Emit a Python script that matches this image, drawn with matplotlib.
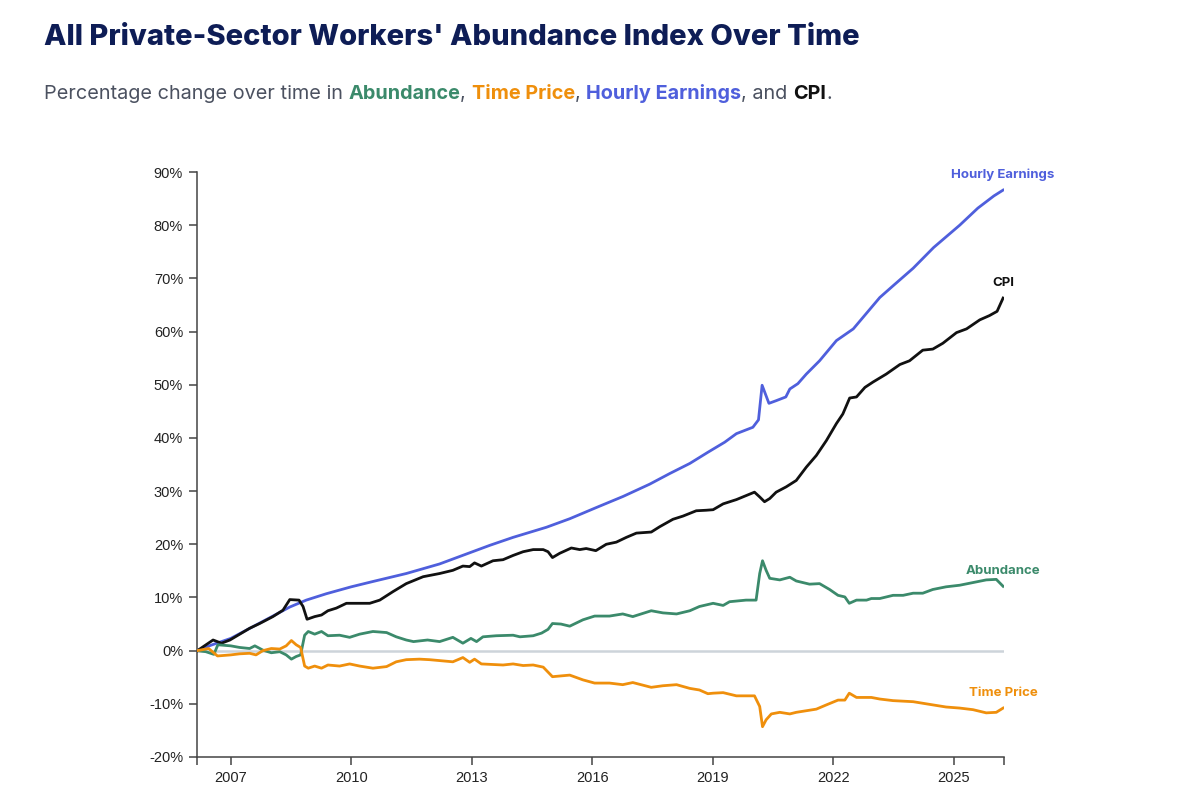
import numpy as np
import matplotlib
matplotlib.use('Agg')
from matplotlib import pyplot as plt
from matplotlib.ticker import FuncFormatter

# values (decimal year, percent change)
earn_t = [2006.17, 2006.50, 2007.00, 2007.50, 2008.05, 2008.47, 2008.88, 2009.38, 2010.00,
          2010.54, 2011.37, 2012.20, 2012.95, 2013.45, 2014.03, 2014.86, 2015.44, 2016.10,
          2016.77, 2017.43, 2017.93, 2018.43, 2018.88, 2019.30, 2019.59, 2020.00, 2020.14,
          2020.23, 2020.40, 2020.58, 2020.82, 2020.92, 2021.12, 2021.33, 2021.66, 2022.08,
          2022.50, 2023.16, 2023.49, 2023.99, 2024.50, 2025.15, 2025.60, 2026.00, 2026.23]
earn_v = [0.0, 1.0, 2.3, 4.3, 6.5, 8.2, 9.5, 10.7, 12.0,
          13.0, 14.5, 16.3, 18.4, 19.8, 21.3, 23.2, 24.8, 26.9,
          29.0, 31.3, 33.3, 35.2, 37.3, 39.2, 40.8, 42.0, 43.4,
          49.9, 46.5, 47.0, 47.7, 49.2, 50.2, 52.0, 54.5, 58.3,
          60.5, 66.4, 68.6, 71.9, 75.8, 80.0, 83.2, 85.5, 86.6]

cpi_t = [2006.17, 2006.56, 2006.77, 2006.98, 2007.47, 2007.72, 2008.05, 2008.30, 2008.47,
         2008.70, 2008.80, 2008.90, 2009.09, 2009.26, 2009.42, 2009.63, 2009.88, 2010.46,
         2010.71, 2011.04, 2011.37, 2011.79, 2012.20, 2012.53, 2012.78, 2012.95, 2013.07,
         2013.24, 2013.53, 2013.78, 2014.03, 2014.28, 2014.53, 2014.78, 2014.90, 2015.01,
         2015.19, 2015.48, 2015.69, 2015.85, 2016.09, 2016.35, 2016.60, 2016.85, 2017.10,
         2017.47, 2017.68, 2018.01, 2018.26, 2018.59, 2018.84, 2019.01, 2019.26, 2019.59,
         2020.04, 2020.17, 2020.29, 2020.42, 2020.58, 2020.83, 2021.08, 2021.33, 2021.58,
         2021.83, 2022.08, 2022.24, 2022.41, 2022.58, 2022.79, 2022.99, 2023.32, 2023.66,
         2023.90, 2024.23, 2024.48, 2024.73, 2025.07, 2025.32, 2025.65, 2025.89, 2026.08,
         2026.23]
cpi_v = [0.0, 2.0, 1.4, 2.0, 4.2, 5.1, 6.4, 7.6, 9.6,
         9.5, 8.3, 5.9, 6.4, 6.7, 7.5, 8.0, 8.9, 8.9,
         9.5, 11.1, 12.6, 13.9, 14.5, 15.1, 15.9, 15.8, 16.5,
         15.9, 16.9, 17.1, 17.9, 18.6, 19.0, 19.0, 18.6, 17.5,
         18.3, 19.3, 19.0, 19.2, 18.8, 20.0, 20.4, 21.3, 22.1,
         22.3, 23.3, 24.7, 25.3, 26.3, 26.4, 26.5, 27.6, 28.4,
         29.8, 28.9, 28.0, 28.6, 29.8, 30.8, 32.0, 34.5, 36.7,
         39.5, 42.7, 44.5, 47.5, 47.7, 49.5, 50.5, 52.0, 53.8,
         54.5, 56.5, 56.7, 57.8, 59.8, 60.5, 62.2, 63.0, 63.8,
         66.3]

abund_t = [2006.17, 2006.38, 2006.58, 2006.68, 2007.00, 2007.22, 2007.47, 2007.60, 2007.80,
           2008.01, 2008.22, 2008.38, 2008.51, 2008.63, 2008.74, 2008.84, 2008.93, 2009.09,
           2009.26, 2009.42, 2009.71, 2009.96, 2010.21, 2010.54, 2010.88, 2011.12, 2011.37,
           2011.55, 2011.90, 2012.20, 2012.53, 2012.78, 2012.98, 2013.12, 2013.28, 2013.61,
           2014.03, 2014.20, 2014.53, 2014.74, 2014.90, 2015.01, 2015.22, 2015.44, 2015.77,
           2016.06, 2016.43, 2016.76, 2017.01, 2017.47, 2017.76, 2018.10, 2018.43, 2018.67,
           2019.01, 2019.26, 2019.42, 2019.83, 2020.08, 2020.17, 2020.24, 2020.33, 2020.42,
           2020.67, 2020.92, 2021.08, 2021.41, 2021.66, 2021.91, 2022.12, 2022.29, 2022.40,
           2022.58, 2022.83, 2022.95, 2023.16, 2023.49, 2023.74, 2023.99, 2024.23, 2024.48,
           2024.81, 2025.15, 2025.48, 2025.81, 2026.06, 2026.23]
abund_v = [0.0, -0.2, -0.7, 1.1, 0.9, 0.6, 0.4, 0.9, 0.1,
           -0.4, -0.2, -0.8, -1.6, -1.1, -0.8, 2.9, 3.6, 3.1,
           3.6, 2.8, 2.9, 2.5, 3.1, 3.6, 3.4, 2.6, 2.0,
           1.7, 2.0, 1.7, 2.5, 1.4, 2.3, 1.7, 2.6, 2.8,
           2.9, 2.6, 2.8, 3.3, 4.0, 5.1, 5.0, 4.6, 5.8,
           6.5, 6.5, 6.9, 6.4, 7.5, 7.1, 6.9, 7.5, 8.3,
           8.9, 8.5, 9.2, 9.5, 9.5, 14.5, 16.9, 15.1, 13.6,
           13.3, 13.8, 13.1, 12.5, 12.6, 11.5, 10.4, 10.1, 8.9,
           9.5, 9.5, 9.8, 9.8, 10.4, 10.4, 10.8, 10.8, 11.5,
           12.0, 12.3, 12.8, 13.3, 13.4, 12.1]

tprice_t = [2006.17, 2006.45, 2006.67, 2007.00, 2007.22, 2007.47, 2007.63, 2007.80, 2008.01,
            2008.22, 2008.38, 2008.51, 2008.63, 2008.74, 2008.84, 2008.93, 2009.09, 2009.26,
            2009.42, 2009.71, 2009.96, 2010.21, 2010.54, 2010.88, 2011.12, 2011.37, 2011.70,
            2011.95, 2012.53, 2012.78, 2012.95, 2013.07, 2013.24, 2013.78, 2014.03, 2014.28,
            2014.53, 2014.78, 2015.01, 2015.44, 2015.77, 2016.06, 2016.43, 2016.76, 2017.01,
            2017.47, 2017.76, 2018.10, 2018.43, 2018.67, 2018.88, 2019.01, 2019.26, 2019.59,
            2020.04, 2020.17, 2020.24, 2020.33, 2020.46, 2020.67, 2020.92, 2021.08, 2021.33,
            2021.58, 2021.83, 2022.12, 2022.29, 2022.40, 2022.58, 2022.95, 2023.16, 2023.49,
            2023.99, 2024.48, 2024.81, 2025.15, 2025.48, 2025.81, 2026.06, 2026.23]
tprice_v = [0.0, 0.4, -1.0, -0.8, -0.6, -0.5, -0.8, 0.0, 0.4,
            0.3, 0.9, 1.9, 1.1, 0.6, -2.9, -3.3, -2.9, -3.3,
            -2.7, -2.9, -2.5, -2.9, -3.3, -3.0, -2.1, -1.7, -1.6,
            -1.7, -2.1, -1.3, -2.2, -1.6, -2.5, -2.7, -2.5, -2.8,
            -2.7, -3.1, -4.9, -4.6, -5.5, -6.1, -6.1, -6.4, -6.0,
            -6.9, -6.6, -6.4, -7.1, -7.4, -8.1, -8.0, -7.9, -8.5,
            -8.5, -10.5, -14.3, -13.0, -11.9, -11.6, -11.9, -11.6, -11.3,
            -11.0, -10.2, -9.3, -9.3, -8.0, -8.8, -8.8, -9.1, -9.4,
            -9.6, -10.2, -10.6, -10.8, -11.1, -11.7, -11.6, -10.8]

year_ticks = [2007, 2010, 2013, 2016, 2019, 2022, 2025]
pct_ticks = list(range(-20, 100, 10))

GREEN = '#3b8a6b'
ORANGE = '#ef8f0c'
BLUE = '#4f5fdc'
BLACK = '#111111'
NAVY = '#0e1d56'
GREY = '#4b5160'
SANS = ['Inter', 'DejaVu Sans']

plt.rcParams['font.family'] = ['Liberation Sans', 'DejaVu Sans']

fig = plt.figure(figsize=(12, 8.11), dpi=100)
ax = fig.add_axes([197 / 1200, 54 / 811, 806.7 / 1200, 585 / 811])

x0, x1 = 2006.16, 2026.245
ax.axhline(0, color='#cdd4da', lw=1.8, zorder=1)

series = [
    (earn_t, earn_v, BLUE, 'Hourly Earnings'),
    (cpi_t, cpi_v, BLACK, 'CPI'),
    (abund_t, abund_v, GREEN, 'Abundance'),
    (tprice_t, tprice_v, ORANGE, 'Time Price'),
]
for t, v, c, name in series:
    ax.plot(t, v, color=c, lw=2.0, solid_joinstyle='round', zorder=3)
    # end label sits just above the last point
    ax.annotate(name, xy=(t[-1], v[-1]), xytext=(0, 11), textcoords='offset points',
                ha='center', va='center', color=c, fontsize=9.5, fontweight='bold',
                family=SANS, annotation_clip=False)

ax.set_xlim(x0, x1)
ax.set_ylim(-20, 90)
ax.set_xticks([x0] + year_ticks + [x1])
ax.set_xticklabels([''] + [str(y) for y in year_ticks] + [''])
ax.set_yticks(pct_ticks)
ax.yaxis.set_major_formatter(FuncFormatter(lambda v, p: f'{v:.0f}%'))
for s in ['top', 'right']:
    ax.spines[s].set_visible(False)
for s in ['left', 'bottom']:
    ax.spines[s].set_color('#444444')
    ax.spines[s].set_linewidth(1.1)
ax.tick_params(axis='both', length=6, width=1.1, color='#444444', labelsize=10.5,
               labelcolor='#222222', pad=4)

# title
fig.text(44 / 1200, 1 - 45 / 811, "All Private-Sector Workers' Abundance Index Over Time",
         fontsize=21, fontweight=800, color=NAVY, family=SANS,
         ha='left', va='baseline')

# subtitle with coloured keywords, pieces laid end to end
parts = [
    ('Percentage change over time in ', GREY, 'normal'),
    ('Abundance', GREEN, 'bold'),
    (', ', GREY, 'normal'),
    ('Time Price', ORANGE, 'bold'),
    (', ', GREY, 'normal'),
    ('Hourly Earnings', BLUE, 'bold'),
    (', and ', GREY, 'normal'),
    ('CPI', BLACK, 'bold'),
    ('.', GREY, 'normal'),
]
renderer = fig.canvas.get_renderer()
x_px = 44
for s, c, w in parts:
    t = fig.text(x_px / 1200, 1 - 99 / 811, s, ha='left', va='baseline', fontsize=14.3,
                 color=c, fontweight=w, family=SANS)
    x_px = t.get_window_extent(renderer).x1

fig.savefig('out.png', dpi=100)
